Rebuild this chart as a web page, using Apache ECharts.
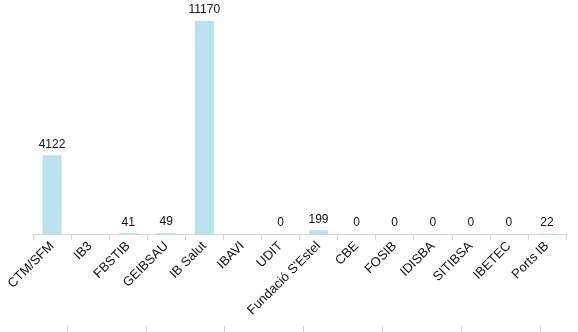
<!DOCTYPE html>
<html>
<head>
<meta charset="utf-8">
<script src="https://cdn.jsdelivr.net/npm/echarts@6/dist/echarts.min.js"></script>
<style>html,body{margin:0;padding:0;background:#fff;}#c{width:578px;height:332px;}</style>
</head>
<body>
<div id="c"></div>
<script>
var categories = ["CTM/SFM","IB3","FBSTIB","GEIBSAU","IB Salut","IBAVI","UDIT","Fundació S'Estel","CBE","FOSIB","IDISBA","SITIBSA","IBETEC","Ports IB"];
var values = [4122, null, 41, 49, 11170, null, 0, 199, 0, 0, 0, 0, 0, 22];

var chart = echarts.init(document.getElementById('c'), null, {renderer:'canvas'});
chart.setOption({
  animation: false,
  backgroundColor: '#fff',
  textStyle: {fontFamily: 'Liberation Sans, Arial, sans-serif'},
  grid: [
    {left: 33, right: 12, top: 5, bottom: 98},
    {left: 67, width: 473, top: 300, bottom: 6}
  ],
  xAxis: [
    {
      type: 'category', gridIndex: 0, data: categories,
      axisLine: {lineStyle: {color: '#d4d4d4', width: 1}},
      axisTick: {show: true, length: 6, lineStyle: {color: '#d4d4d4'}},
      axisLabel: {rotate: 45, margin: 10, color: '#111', fontSize: 13, interval: 0, fontFamily: 'Liberation Sans, Arial, sans-serif'}
    },
    {
      type: 'value', gridIndex: 1, min: 0, max: 6, interval: 1,
      axisLine: {show: false},
      axisTick: {show: true, length: 6, lineStyle: {color: '#d4d4d4'}},
      axisLabel: {show: false},
      splitLine: {show: false}
    }
  ],
  yAxis: [
    {type: 'value', gridIndex: 0, min: 0, max: 12000, show: false, splitLine: {show: false}},
    {type: 'value', gridIndex: 1, min: 0, max: 1, show: false, splitLine: {show: false}}
  ],
  series: [
    {
      type: 'bar', xAxisIndex: 0, yAxisIndex: 0, data: values,
      barWidth: '50%',
      itemStyle: {color: '#b9e2ef'},
      label: {show: true, position: 'top', distance: 5, color: '#111', fontSize: 12, fontFamily: 'Liberation Sans, Arial, sans-serif'}
    },
    {type: 'scatter', xAxisIndex: 1, yAxisIndex: 1, data: [], silent: true}
  ]
});
</script>
</body>
</html>
